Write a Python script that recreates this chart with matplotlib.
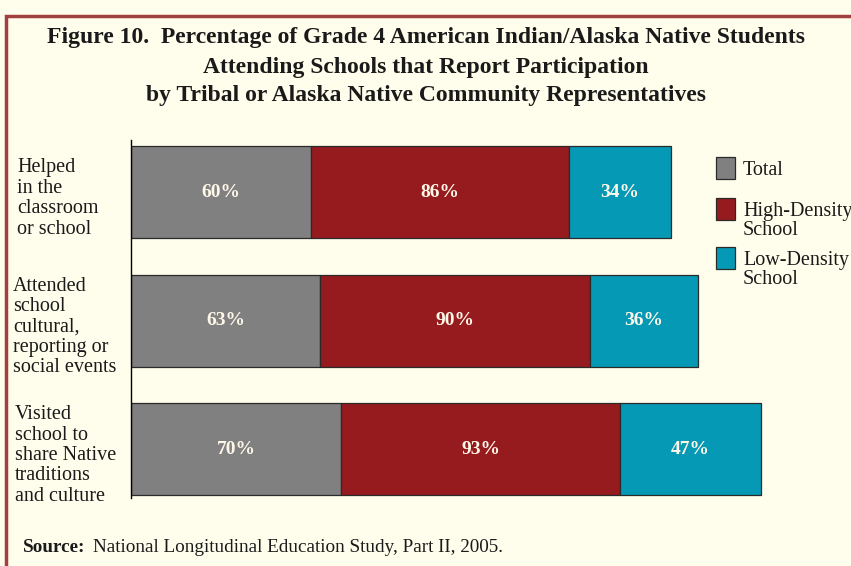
import matplotlib.pyplot as plt
from matplotlib.patches import Rectangle
from matplotlib.transforms import blended_transform_factory

categories = [
    "Helped\nin the\nclassroom\nor school",
    "Attended\nschool\ncultural,\nreporting or\nsocial events",
    "Visited\nschool to\nshare Native\ntraditions\nand culture",
]
series_names = ["Total", "High-Density\nSchool", "Low-Density\nSchool"]
total = [60, 63, 70]
high_density = [86, 90, 93]
low_density = [34, 36, 47]
colors = ["#808080", "#961b1f", "#0599b6"]

BG = "#fffdeb"
BORDER = "#a2403f"
TXT = "#1a1a1a"

plt.rcParams["font.family"] = ["Liberation Serif", "DejaVu Serif"]

fig = plt.figure(figsize=(8.51, 5.66), dpi=100, facecolor=BG)
ax = fig.add_axes([131 / 851, 1 - 498 / 566, 720 / 851, 358 / 566])
ax.set_facecolor(BG)

series = [total, high_density, low_density]
ypos = list(range(len(categories)))
left = [0] * len(categories)
for vals, col in zip(series, colors):
    bars = ax.barh(ypos, vals, left=left, height=0.716, color=col,
                   edgecolor="#2a2a2a", linewidth=0.9)
    for b, v in zip(bars, vals):
        ax.text(b.get_x() + b.get_width() / 2, b.get_y() + b.get_height() / 2,
                f"{v}%", ha="center", va="center", color="#fff8e8",
                fontsize=14, fontweight="bold")
    left = [l + v for l, v in zip(left, vals)]

ax.set_xlim(0, 240)
ax.set_ylim(2.381, -0.405)
for s in ["top", "right", "bottom"]:
    ax.spines[s].set_visible(False)
ax.spines["left"].set_linewidth(1.0)
ax.set_xticks([])
ax.set_yticks([])

# category labels, left aligned at the frame edge
trans = blended_transform_factory(fig.transFigure, ax.transData)
label_x = [17 / 851, 13 / 851, 15 / 851]
for y, lab, lx in zip(ypos, categories, label_x):
    fig.text(lx, y + 0.05, lab, transform=trans, fontsize=14.5,
             va="center", ha="left", linespacing=1.1, color=TXT)

# legend
leg_y = [168, 209, 258]
for name, col, ly in zip(series_names, colors, leg_y):
    fig.patches.append(Rectangle((716 / 851, 1 - (ly + 11) / 566), 19 / 851, 22 / 566,
                                 transform=fig.transFigure, facecolor=col,
                                 edgecolor="#2a2a2a", linewidth=0.9))
    fig.text(743 / 851, 1 - (ly - 7) / 566, name, fontsize=14.5, va="top",
             ha="left", linespacing=1.0, color=TXT)

# title
fig.text(426 / 851, 1 - 67 / 566,
         "Figure 10.  Percentage of Grade 4 American Indian/Alaska Native Students\n"
         "Attending Schools that Report Participation\n"
         "by Tribal or Alaska Native Community Representatives",
         ha="center", va="center", fontsize=17, fontweight="bold",
         linespacing=1.5, color=TXT)

# source
fig.text(23 / 851, 1 - 547 / 566, "Source:", fontsize=13.8, fontweight="bold",
         va="center", ha="left", color=TXT)
fig.text(93 / 851, 1 - 547 / 566, "National Longitudinal Education Study, Part II, 2005.",
         fontsize=13.8, va="center", ha="left", color=TXT)

# frame border (runs off right and bottom edges)
fig.patches.append(Rectangle((6 / 851, -0.2), 1.2, 1.2 - 16 / 566,
                             transform=fig.transFigure, fill=False,
                             edgecolor=BORDER, linewidth=2.5, clip_on=False))

fig.savefig("out.png", dpi=100, facecolor=BG)
